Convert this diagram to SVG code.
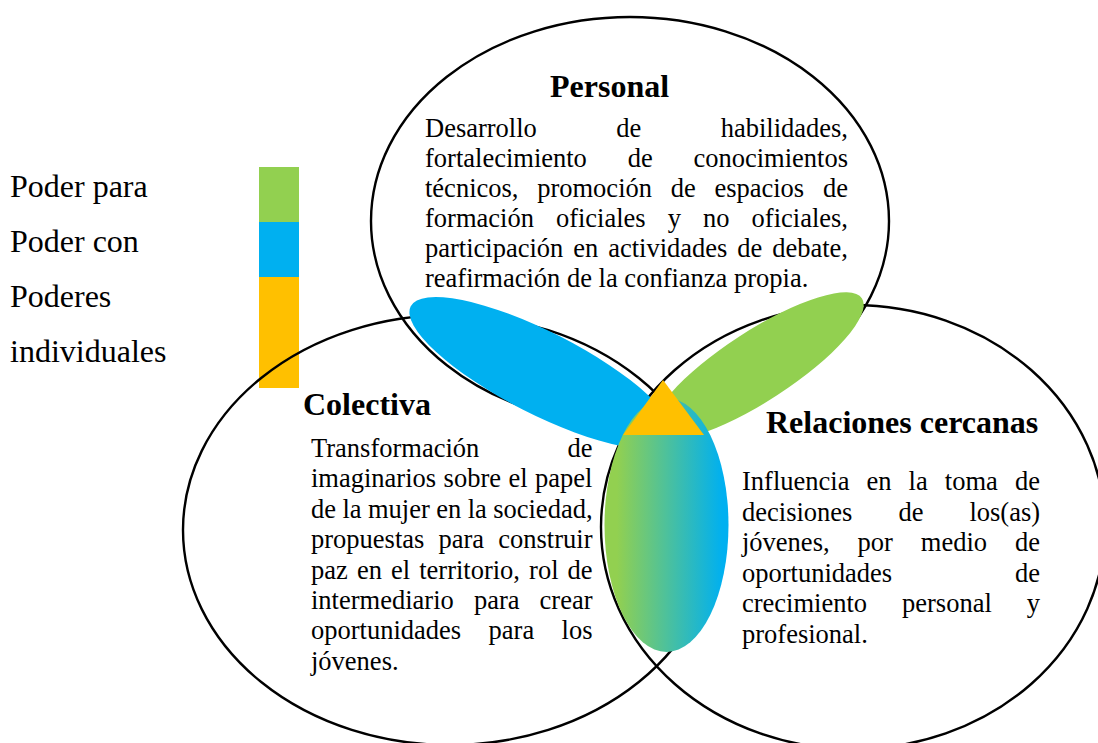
<svg xmlns="http://www.w3.org/2000/svg" width="1098" height="743" viewBox="0 0 1098 743">
<defs>
<style>
.ring{fill:none;stroke:#000;stroke-width:2.4}
.t{font-family:"Liberation Serif","Times New Roman",serif;fill:#000}
.body{font-size:26.5px}
.head{font-size:32px;font-weight:bold}
.leg{font-size:32px}
</style>
<linearGradient id="grad" x1="0" y1="0" x2="1" y2="0">
<stop offset="0.1" stop-color="#92D050"/>
<stop offset="0.95" stop-color="#00B0F0"/>
</linearGradient>
</defs>
<rect width="1098" height="743" fill="#fff"/>

<g id="legend">
<rect x="259" y="167" width="40" height="55" fill="#92D050"/>
<rect x="259" y="222" width="40" height="55" fill="#00B0F0"/>
<rect x="259" y="277" width="40" height="111" fill="#FFC000"/>
<text class="t leg" x="10" y="197">Poder para</text>
<text class="t leg" x="10" y="252">Poder con</text>
<text class="t leg" x="10" y="307">Poderes</text>
<text class="t leg" x="10" y="362">individuales</text>
</g>

<g id="node-personal">
<ellipse class="ring" cx="630" cy="221" rx="259" ry="204"/>
<text class="t head" x="550" y="97">Personal</text>
<text class="t body">
<tspan x="425" y="137">Desarrollo</tspan><tspan x="616.3" y="137">de</tspan><tspan x="720.7" y="137">habilidades,</tspan>
<tspan x="425" y="167">fortalecimiento</tspan><tspan x="627.7" y="167">de</tspan><tspan x="693.4" y="167">conocimientos</tspan>
<tspan x="425" y="197">técnicos,</tspan><tspan x="537.2" y="197">promoción</tspan><tspan x="670.7" y="197">de</tspan><tspan x="714.4" y="197">espacios</tspan><tspan x="823" y="197">de</tspan>
<tspan x="425" y="227">formación</tspan><tspan x="555.9" y="227">oficiales</tspan><tspan x="667.8" y="227">y</tspan><tspan x="703.1" y="227">no</tspan><tspan x="751.6" y="227">oficiales,</tspan>
<tspan x="425" y="257">participación</tspan><tspan x="573.3" y="257">en</tspan><tspan x="608.2" y="257">actividades</tspan><tspan x="737.3" y="257">de</tspan><tspan x="772.2" y="257">debate,</tspan>
<tspan x="425" y="287">reafirmación de la confianza propia.</tspan>
</text>
</g>

<g id="node-colectiva">
<ellipse class="ring" cx="450" cy="530" rx="267" ry="215"/>
<text class="t head" x="303" y="415">Colectiva</text>
<text class="t body">
<tspan x="311" y="457">Transformación</tspan><tspan x="567.5" y="457">de</tspan>
<tspan x="311" y="487.4">imaginarios</tspan><tspan x="443.6" y="487.4">sobre</tspan><tspan x="508.5" y="487.4">el</tspan><tspan x="535.1" y="487.4">papel</tspan>
<tspan x="311" y="517.8">de</tspan><tspan x="342.4" y="517.8">la</tspan><tspan x="368" y="517.8">mujer</tspan><tspan x="436.2" y="517.8">en</tspan><tspan x="467.7" y="517.8">la</tspan><tspan x="493.2" y="517.8">sociedad,</tspan>
<tspan x="311" y="548.2">propuestas</tspan><tspan x="438.5" y="548.2">para</tspan><tspan x="498.3" y="548.2">construir</tspan>
<tspan x="311" y="578.6">paz</tspan><tspan x="356.9" y="578.6">en</tspan><tspan x="391" y="578.6">el</tspan><tspan x="419.2" y="578.6">territorio,</tspan><tspan x="529.1" y="578.6">rol</tspan><tspan x="567.5" y="578.6">de</tspan>
<tspan x="311" y="609">intermediario</tspan><tspan x="473.9" y="609">para</tspan><tspan x="539.6" y="609">crear</tspan>
<tspan x="311" y="639.4">oportunidades</tspan><tspan x="488.6" y="639.4">para</tspan><tspan x="561.6" y="639.4">los</tspan>
<tspan x="311" y="669.8">jóvenes.</tspan>
</text>
</g>

<g id="node-relaciones">
<ellipse class="ring" cx="853" cy="527" rx="252" ry="222"/>
<text class="t head" x="766" y="433">Relaciones cercanas</text>
<text class="t body">
<tspan x="742" y="490">Influencia</tspan><tspan x="866.5" y="490">en</tspan><tspan x="908.6" y="490">la</tspan><tspan x="944.8" y="490">toma</tspan><tspan x="1015" y="490">de</tspan>
<tspan x="742" y="520.5">decisiones</tspan><tspan x="898.4" y="520.5">de</tspan><tspan x="969.4" y="520.5">los(as)</tspan>
<tspan x="742" y="551">jóvenes,</tspan><tspan x="857.6" y="551">por</tspan><tspan x="920.8" y="551">medio</tspan><tspan x="1015" y="551">de</tspan>
<tspan x="742" y="581.5">oportunidades</tspan><tspan x="1015" y="581.5">de</tspan>
<tspan x="742" y="612">crecimiento</tspan><tspan x="902" y="612">personal</tspan><tspan x="1026.8" y="612">y</tspan>
<tspan x="742" y="642.5">profesional.</tspan>
</text>
</g>

<g id="petals">
<ellipse id="petal-blue" cx="541.7" cy="373.1" rx="147" ry="41" transform="rotate(27 541.7 373.1)" fill="#00B0F0"/>
<ellipse id="petal-green" cx="758" cy="366" rx="124" ry="35" transform="rotate(-33 758 366)" fill="#92D050"/>
<ellipse id="petal-gradient" cx="666.5" cy="525" rx="62" ry="127" fill="url(#grad)"/>
</g>

<g id="center-triangle">
<polygon points="663,380 623,435 704,435" fill="#FFC000"/>
</g>
</svg>
